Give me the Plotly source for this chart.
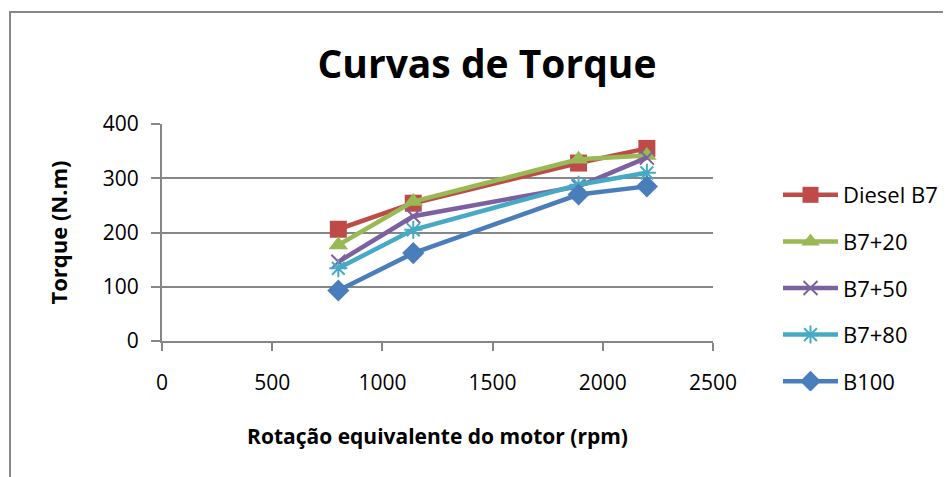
import plotly.graph_objects as go

rpm = [800, 1140, 1890, 2200]
diesel_b7 = [206, 254, 328, 355]
b7_20 = [177, 257, 335, 342]
b7_50 = [146, 230, 285, 338]
b7_80 = [134, 205, 288, 310]
b100 = [93, 162, 270, 285]

series_names = ["Diesel B7", "B7+20", "B7+50", "B7+80", "B100"]
series_values = [diesel_b7, b7_20, b7_50, b7_80, b100]
colors = ["#BE4B48", "#98B954", "#7D60A0", "#46AAC5", "#4A7EBB"]
symbols = ["square", "triangle-up", "x-thin-open", "asterisk-open", "diamond"]
sizes = [17, 17, 14, 15, 17]

FONT = "Open Sans"

fig = go.Figure()
for name, vals, c, s, sz in zip(series_names, series_values, colors, symbols, sizes):
    mk = dict(symbol=s, size=sz, color=c)
    if s.endswith("open"):
        mk["line"] = dict(color=c, width=2)
    fig.add_trace(go.Scatter(
        x=rpm, y=vals, name=name, mode="lines+markers",
        line=dict(color=c, width=4.5), marker=mk, legendgroup=name,
    ))

OFF = 8  # page body margin
W, H = 951, 477
L, T = 162 - OFF, 124 - OFF
R = W - (713 - OFF)
B = H - (341 - OFF)
pw, ph = W - L - R, H - T - B

def px(xp):
    return (xp - OFF - L) / pw

def py(yp):
    return (H - B - (yp - OFF)) / ph

fig.update_layout(
    width=W, height=H,
    margin=dict(l=L, r=R, t=T, b=B),
    paper_bgcolor="white", plot_bgcolor="white",
    font=dict(family=FONT, size=21, color="black"),
    title=dict(text="<b>Curvas de Torque</b>", x=(487 - OFF) / W, xanchor="center",
               y=1 - (64 - OFF) / H, yanchor="middle", font=dict(size=39, family=FONT)),
    xaxis=dict(range=[0, 2500], tickvals=[0, 500, 1000, 1500, 2000, 2500],
               showgrid=False, zeroline=False, showline=True, linecolor="#868686",
               linewidth=2, ticks="outside", ticklen=8, tickcolor="#868686", tickwidth=2,
               ticklabelstandoff=14,
               title=dict(text="<b>Rotação equivalente do motor (rpm)</b>",
                          font=dict(size=21), standoff=34),
               tickfont=dict(size=21)),
    yaxis=dict(range=[0, 400], tickvals=[0, 100, 200, 300, 400],
               showgrid=True, gridcolor="#868686", gridwidth=2, zeroline=False,
               showline=True, linecolor="#868686", linewidth=2,
               ticks="outside", ticklen=9, tickcolor="#868686", tickwidth=2,
               ticklabelstandoff=8,
               title=dict(text="<b>Torque (N.m)</b>", font=dict(size=22), standoff=29),
               tickfont=dict(size=21)),
    legend=dict(x=px(778), xanchor="left", y=py(174), yanchor="top",
                font=dict(size=22), tracegroupgap=15, itemwidth=55,
                bgcolor="rgba(0,0,0,0)"),
    showlegend=True,
    shapes=[dict(type="rect", xref="paper", yref="paper",
                 x0=px(10), x1=2.0, y0=-1.0, y1=py(12),
                 line=dict(color="#868686", width=2), fillcolor="rgba(0,0,0,0)",
                 layer="below")],
)

fig.write_html("out.html")
